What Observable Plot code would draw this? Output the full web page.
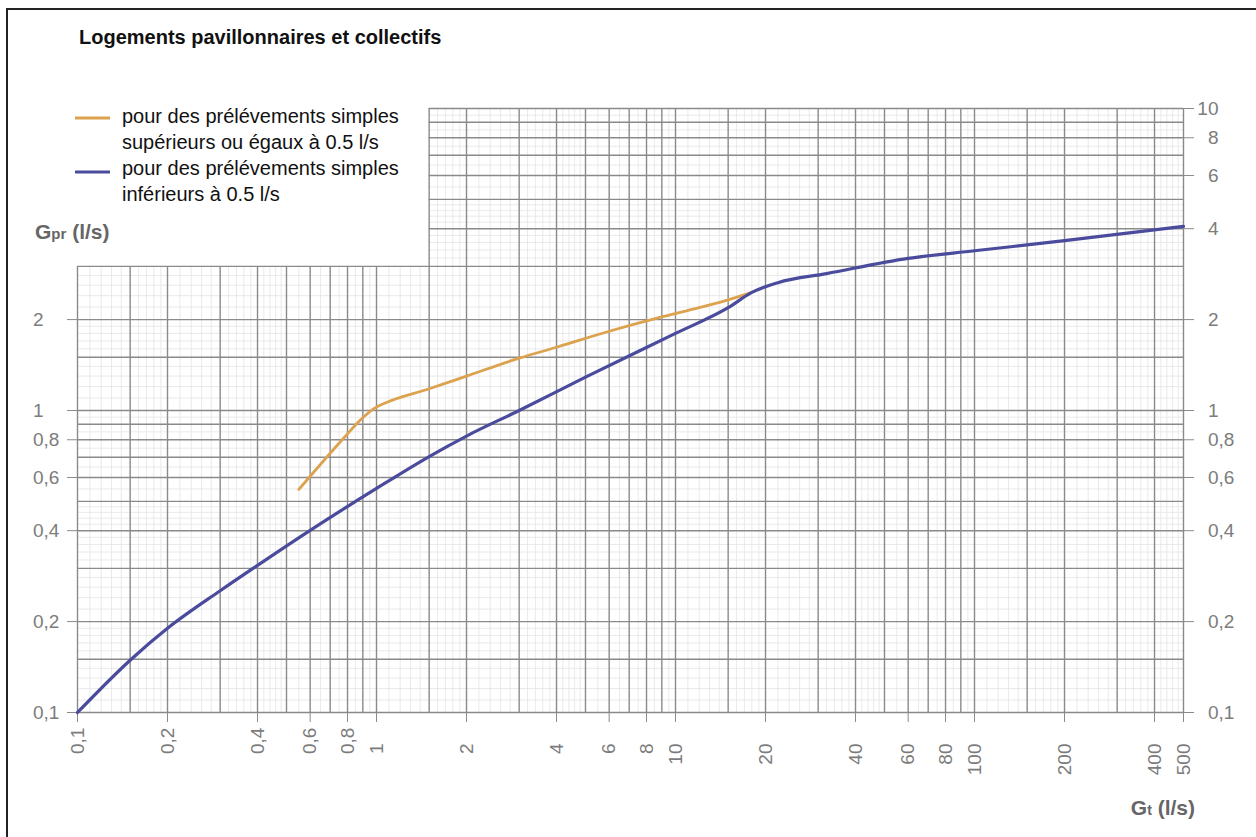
<!DOCTYPE html>
<html>
<head>
<meta charset="utf-8">
<script src="https://cdn.jsdelivr.net/npm/d3@7"></script>
<script src="https://cdn.jsdelivr.net/npm/@observablehq/plot@0.6"></script>
<style>
html, body { margin: 0; padding: 0; background: #fff; overflow: hidden; }
#wrap { position: relative; width: 1256px; height: 837px; font-family: "Liberation Sans", Arial, Helvetica, sans-serif; }
#chart { position: absolute; left: 0; top: 0; }
#overlay { position: absolute; left: 0; top: 0; pointer-events: none; }
</style>
</head>
<body>
<div id="wrap"><div id="chart"></div></div>
<script>
// ---- Data ----
const blueX   = [0.1, 0.15, 0.2, 0.3, 0.4, 0.6, 1, 1.5, 2, 3, 5, 10, 15, 18, 22, 32, 60, 100, 200, 500];
const blueY   = [0.1, 0.149, 0.19, 0.253, 0.307, 0.401, 0.552, 0.704, 0.823, 1.0, 1.29, 1.80, 2.19, 2.46, 2.65, 2.84, 3.19, 3.38, 3.65, 4.07];
const orangeX = [0.55, 0.78, 0.88, 0.98, 1.08, 1.5, 2, 3, 4, 6, 8.8, 12, 14.7, 18];
const orangeY = [0.548, 0.814, 0.927, 1.015, 1.063, 1.18, 1.30, 1.49, 1.62, 1.83, 2.03, 2.19, 2.31, 2.46];

const seriesNames = [
  ["pour des prélévements simples", "supérieurs ou égaux à 0.5 l/s"],
  ["pour des prélévements simples", "inférieurs à 0.5 l/s"]
];
const seriesColors = ["#dca24e", "#4a4b9c"];

const xLabels      = [0.1, 0.2, 0.4, 0.6, 0.8, 1, 2, 4, 6, 8, 10, 20, 40, 60, 80, 100, 200, 400, 500];
const yLeftLabels  = [0.1, 0.2, 0.4, 0.6, 0.8, 1, 2];
const yRightLabels = [0.1, 0.2, 0.4, 0.6, 0.8, 1, 2, 4, 6, 8, 10];

const titleText = "Logements pavillonnaires et collectifs";

// grid (log paper)
const xDecades = [0.1, 1, 10, 100];
const yDecades = [0.1, 1];
const majorFactors = [1, 1.5, 2, 3, 4, 5, 6, 7, 8, 9];
const minorFactors = [1.1, 1.2, 1.3, 1.4, 1.6, 1.7, 1.8, 1.9, 2.2, 2.4, 2.6, 2.8, 3.2, 3.4, 3.6, 3.8, 4.2, 4.4, 4.6, 4.8, 5.5, 6.5, 7.5, 8.5, 9.5];
const cutX = 1.5, cutY = 3; // top-left corner of the paper is left blank for the legend

const xMajor = xDecades.flatMap(d => majorFactors.map(f => d * f)).filter(v => v <= 500.0001);
const yMajor = yDecades.flatMap(d => majorFactors.map(f => d * f)).concat([10]);
const xMinor = xDecades.flatMap(d => minorFactors.map(f => d * f)).filter(v => v <= 500);
const yMinor = yDecades.flatMap(d => minorFactors.map(f => d * f));

const blue = blueX.map((x, i) => ({x, y: blueY[i]}));
const orange = orangeX.map((x, i) => ({x, y: orangeY[i]}));

const intPart = d => String(Math.trunc(d + 1e-9));
const fracPart = d => {
  const s = String(d);
  return s.includes(".") ? "," + s.split(".")[1] : "";
};
const hasFrac = d => String(d).includes(".");

const labelColor = "#7c7c7c";
const gridColor = "#8a8a8a";
const fs = 19;

const vTop = d => (d >= cutX - 1e-9 ? 10 : cutY);
const hLeft = d => (d > cutY + 1e-9 ? cutX : 0.1);

const chart = Plot.plot({
  width: 1256,
  height: 837,
  marginLeft: 77,
  marginRight: 73,
  marginTop: 108,
  marginBottom: 125,
  style: {fontFamily: '"Liberation Sans", Arial, Helvetica, sans-serif', background: "transparent"},
  x: {type: "log", domain: [0.1, 500], label: null},
  y: {type: "log", domain: [0.1, 10], label: null},
  marks: [
    Plot.ruleX(xMinor, {x: d => d, y1: 0.1, y2: vTop, stroke: "#e4e4e4", strokeWidth: 0.8}),
    Plot.ruleY(yMinor, {y: d => d, x1: hLeft, x2: 500, stroke: "#e4e4e4", strokeWidth: 0.8}),
    Plot.ruleX(xMajor, {x: d => d, y1: 0.1, y2: vTop, stroke: gridColor, strokeWidth: 1.4}),
    Plot.ruleY(yMajor, {y: d => d, x1: hLeft, x2: 500, stroke: gridColor, strokeWidth: 1.4}),
    Plot.axisX({ticks: xLabels, anchor: "bottom", tickSize: 10, tickFormat: () => "", color: gridColor, label: null}),
    Plot.axisY({ticks: yLeftLabels, anchor: "left", tickSize: 10, tickFormat: () => "", color: gridColor, label: null}),
    Plot.axisY({ticks: yRightLabels, anchor: "right", tickSize: 10, tickFormat: () => "", color: gridColor, label: null}),
    // x labels (rotated, aligned on the decimal comma)
    Plot.text(xLabels, {x: d => d, y: () => 0.1, text: intPart, rotate: -90, textAnchor: "end", dy: 31, fontSize: fs, fill: labelColor}),
    Plot.text(xLabels.filter(hasFrac), {x: d => d, y: () => 0.1, text: fracPart, rotate: -90, textAnchor: "start", dy: 31, fontSize: fs, fill: labelColor}),
    // left y labels
    Plot.text(yLeftLabels, {y: d => d, x: () => 0.1, text: intPart, textAnchor: "end", dx: -34, fontSize: fs, fill: labelColor}),
    Plot.text(yLeftLabels.filter(hasFrac), {y: d => d, x: () => 0.1, text: fracPart, textAnchor: "start", dx: -34, fontSize: fs, fill: labelColor}),
    // right y labels
    Plot.text(yRightLabels, {y: d => d, x: () => 500, text: intPart, textAnchor: "end", dx: 35, fontSize: fs, fill: labelColor}),
    Plot.text(yRightLabels.filter(hasFrac), {y: d => d, x: () => 500, text: fracPart, textAnchor: "start", dx: 35, fontSize: fs, fill: labelColor}),
    // curves
    Plot.line(orange, {x: "x", y: "y", stroke: seriesColors[0], strokeWidth: 2.8, curve: "monotone-x"}),
    Plot.line(blue, {x: "x", y: "y", stroke: seriesColors[1], strokeWidth: 3.2, curve: "monotone-x"})
  ]
});
document.getElementById("chart").appendChild(chart);

// ---- overlay: frame, title, legend, axis titles ----
const ov = d3.select("#wrap").append("svg")
  .attr("id", "overlay")
  .attr("width", 1256).attr("height", 837)
  .style("font-family", '"Liberation Sans", Arial, Helvetica, sans-serif');

ov.append("path").attr("d", "M7,837V9H1256").attr("fill", "none").attr("stroke", "#222").attr("stroke-width", 2);

ov.append("text").attr("x", 79).attr("y", 44)
  .attr("font-size", 20).attr("font-weight", "bold").attr("fill", "#111")
  .text(titleText);

const swatchY = [118, 172];
const lineBase = [[123, 149], [175, 201]];
seriesNames.forEach((lines, i) => {
  ov.append("line").attr("x1", 75).attr("x2", 110).attr("y1", swatchY[i]).attr("y2", swatchY[i])
    .attr("stroke", seriesColors[i]).attr("stroke-width", 3);
  lines.forEach((t, j) => {
    ov.append("text").attr("x", 122).attr("y", lineBase[i][j]).attr("font-size", 20).attr("fill", "#111").text(t);
  });
});

const yTitle = ov.append("text").attr("x", 35).attr("y", 239)
  .attr("font-size", 21).attr("font-weight", "bold").attr("fill", "#666");
yTitle.append("tspan").text("G");
yTitle.append("tspan").attr("font-size", 15).text("pr");
yTitle.append("tspan").text(" (l/s)");

const xTitle = ov.append("text").attr("x", 1195).attr("y", 815).attr("text-anchor", "end")
  .attr("font-size", 21).attr("font-weight", "bold").attr("fill", "#666");
xTitle.append("tspan").text("G");
xTitle.append("tspan").attr("font-size", 14).text("t");
xTitle.append("tspan").text(" (l/s)");
</script>
</body>
</html>
